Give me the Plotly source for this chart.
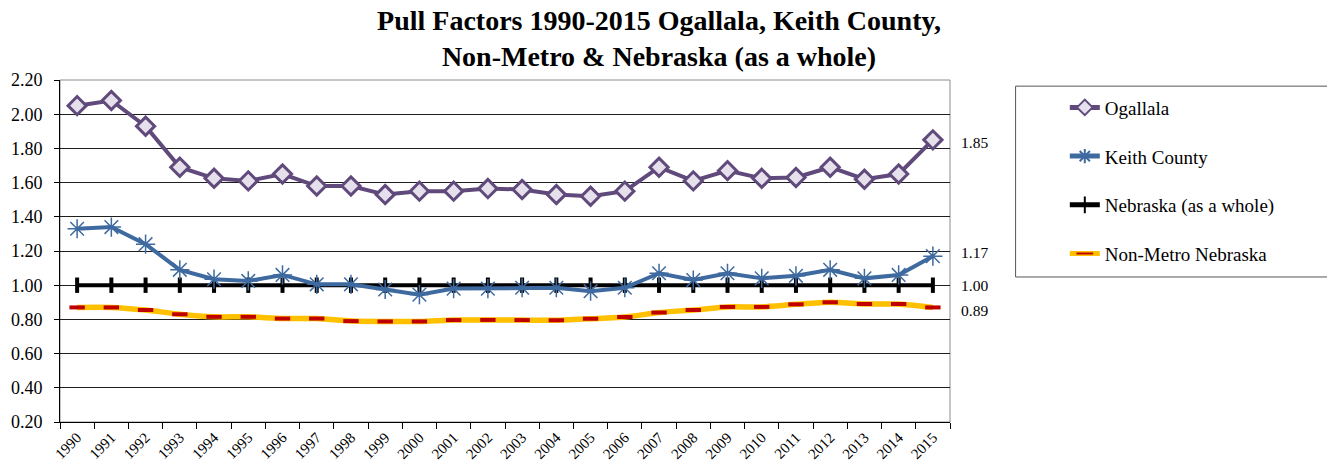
import plotly.graph_objects as go

years = [str(y) for y in range(1990, 2016)]
ogallala = [2.05, 2.08, 1.93, 1.69, 1.625, 1.61, 1.65, 1.58, 1.58, 1.53, 1.55, 1.55, 1.565,
            1.56, 1.53, 1.52, 1.55, 1.69, 1.61, 1.67, 1.625, 1.63, 1.69, 1.62, 1.65, 1.85]
keith = [1.33, 1.34, 1.24, 1.09, 1.035, 1.025, 1.06, 1.005, 1.005, 0.975, 0.945, 0.98, 0.98,
         0.985, 0.985, 0.965, 0.985, 1.07, 1.03, 1.07, 1.04, 1.055, 1.09, 1.04, 1.06, 1.17]
nebraska = [1.00] * 26
nonmetro = [0.87, 0.87, 0.855, 0.83, 0.815, 0.815, 0.805, 0.805, 0.79, 0.788, 0.788, 0.796, 0.797,
            0.796, 0.795, 0.804, 0.814, 0.84, 0.855, 0.873, 0.873, 0.888, 0.90, 0.89, 0.89, 0.87]
end_labels = ["1.85", "1.17", "1.00", "0.89"]
series_names = ["Ogallala", "Keith County", "Nebraska (as a whole)", "Non-Metro Nebraska"]

FONT = "Times New Roman, Liberation Serif, serif"
fig = go.Figure()

fig.add_trace(go.Scatter(
    x=years, y=nonmetro, name=series_names[3], mode="lines+markers", legendgroup="d",
    legendrank=4,
    line=dict(color="#ffc000", width=5.5, shape="spline", smoothing=0.6),
    marker=dict(symbol="line-ew-open", size=11, color="#c00000",
                line=dict(color="#c00000", width=4))))
fig.add_trace(go.Scatter(
    x=years, y=nebraska, name=series_names[2], mode="lines+markers", legendgroup="c",
    legendrank=3,
    line=dict(color="#000000", width=4),
    marker=dict(symbol="line-ns-open", size=11, color="#000000",
                line=dict(color="#000000", width=4))))
fig.add_trace(go.Scatter(
    x=years, y=keith, name=series_names[1], mode="lines+markers", legendgroup="b",
    legendrank=2,
    line=dict(color="#3e6aa0", width=4),
    marker=dict(symbol="asterisk-open", size=16, color="#3e6aa0",
                line=dict(color="#3e6aa0", width=1.5))))
fig.add_trace(go.Scatter(
    x=years, y=ogallala, name=series_names[0], mode="lines+markers", legendgroup="a",
    legendrank=1,
    line=dict(color="#604a7b", width=4),
    marker=dict(symbol="diamond", size=14, color="#e6e0ec",
                line=dict(color="#604a7b", width=3))))

last_vals = [ogallala[-1], keith[-1], nebraska[-1], nonmetro[-1]]
shifts = [-3, 4, 0, -3]
for txt, v, s in zip(end_labels, last_vals, shifts):
    fig.add_annotation(x=1, xref="paper", y=v, yref="y", text=txt, showarrow=False,
                       xanchor="left", xshift=9, yshift=s,
                       font=dict(family=FONT, size=15.5, color="#000"))

fig.update_layout(
    width=1327, height=460,
    margin=dict(l=52, r=385, t=72, b=46, autoexpand=False),
    paper_bgcolor="white", plot_bgcolor="white",
    font=dict(family=FONT, color="#000"),
    title=dict(text="<b>Pull Factors 1990-2015 Ogallala, Keith County,<br>Non-Metro &amp; Nebraska (as a whole)</b>",
               x=(659 - 60) / 890, xref="paper", xanchor="center", y=0.952, yref="container",
               yanchor="middle",
               font=dict(family=FONT, size=28, color="#000")),
    legend=dict(x=1.129, xanchor="left", y=0.975, yanchor="top",
                font=dict(family=FONT, size=19, color="#000"),
                tracegroupgap=21, bgcolor="rgba(0,0,0,0)", borderwidth=0,
                itemsizing="constant"),
    showlegend=True,
)
fig.add_shape(type="rect", xref="paper", yref="paper", x0=0, x1=1, y0=0, y1=1,
              line=dict(color="#8c8c8c", width=1), layer="below")
fig.add_shape(type="rect", xref="paper", yref="paper", x0=1.0737, x1=1.4247, y0=0.424, y1=0.982,
              line=dict(color="#555", width=1))

fig.update_xaxes(type="category", range=[-0.5, len(years) - 0.5],
                 showgrid=False, showline=True, linecolor="#000", linewidth=1,
                 ticks="outside", ticklen=6, tickcolor="#000", tickson="boundaries",
                 automargin=False,
                 tickangle=-45, tickfont=dict(family=FONT, size=15, color="#000"))
fig.update_yaxes(range=[0.2, 2.2], dtick=0.2, tick0=0.2, tickformat=".2f",
                 showgrid=True, gridcolor="#1e1e1e", gridwidth=1,
                 showline=True, linecolor="#000", linewidth=1,
                 ticks="outside", ticklen=5, tickcolor="#000", zeroline=False,
                 ticklabelstandoff=8, automargin=False,
                 tickfont=dict(family=FONT, size=18, color="#000"))

fig.write_html("out.html")
